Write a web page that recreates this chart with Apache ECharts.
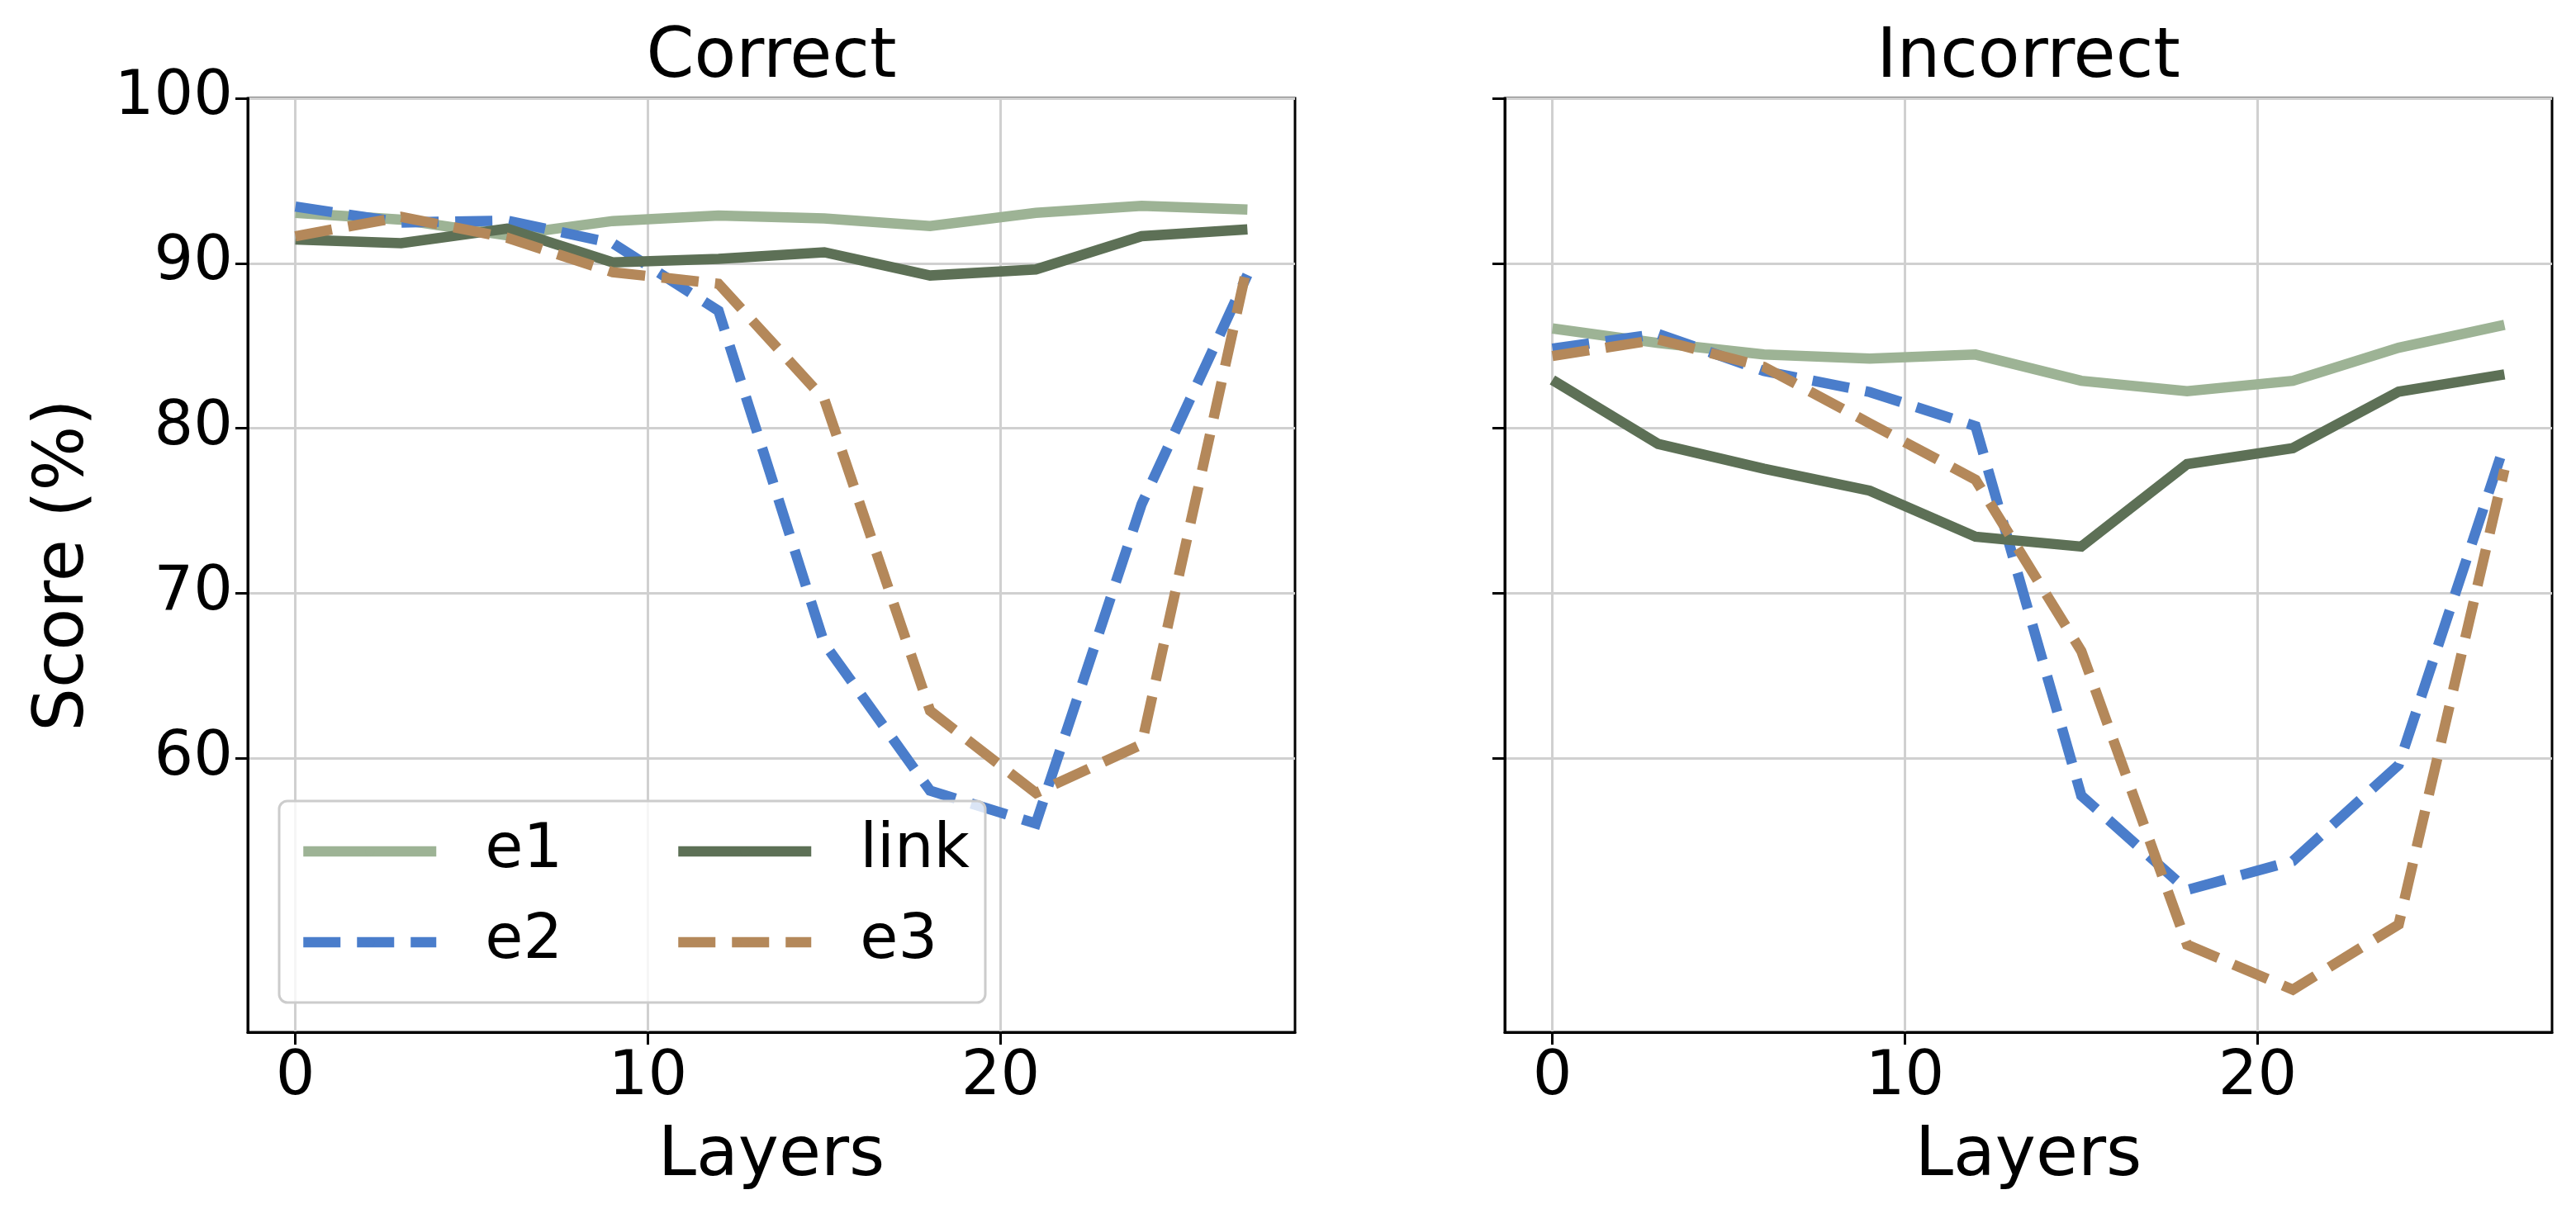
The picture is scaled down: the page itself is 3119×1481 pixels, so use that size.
<!DOCTYPE html>
<html>
<head>
<meta charset="utf-8">
<script src="https://cdn.jsdelivr.net/npm/echarts@6/dist/echarts.min.js"></script>
<style>
html,body{margin:0;padding:0;background:#fff;}
#chart{width:3119px;height:1481px;}
</style>
</head>
<body>
<div id="chart"></div>
<script>
// ---- data ----
const layers = [0, 3, 6, 9, 12, 15, 18, 21, 24, 27];
const panelTitles = ['Correct', 'Incorrect'];
const xTicks = [0, 10, 20];
const yTicks = [60, 70, 80, 90, 100];

const correct_e1   = [93.06, 92.64, 91.70, 92.56, 92.89, 92.72, 92.26, 93.06, 93.48, 93.26];
const correct_e2   = [93.44, 92.47, 92.59, 91.22, 87.12, 66.96, 58.04, 56.05, 75.40, 89.30];
const correct_link = [91.44, 91.22, 92.10, 90.05, 90.27, 90.67, 89.26, 89.63, 91.64, 92.06];
const correct_e3   = [91.64, 92.81, 91.55, 89.46, 88.76, 81.76, 62.88, 57.90, 60.84, 89.90];

const incorrect_e1   = [86.05, 85.17, 84.47, 84.22, 84.47, 82.88, 82.25, 82.88, 84.88, 86.27];
const incorrect_e2   = [84.83, 85.72, 83.47, 82.20, 80.13, 57.74, 52.02, 53.78, 59.60, 79.00];
const incorrect_link = [82.93, 79.05, 77.55, 76.22, 73.43, 72.83, 77.83, 78.80, 82.22, 83.27];
const incorrect_e3   = [84.38, 85.38, 83.72, 80.30, 76.88, 66.50, 48.70, 45.98, 49.93, 77.50];

const seriesNames = ['e1', 'e2', 'link', 'e3'];
// ---- styles ----
const FONT = '"DejaVu Sans", sans-serif';
const colors = {e1: '#9db395', e2: '#4a7dcb', link: '#5d7056', e3: '#b4885a'};
const dashed = {e1: false, e2: true, link: false, e3: true};
const LW = 12.5;

const panelData = [
  {e1: correct_e1, e2: correct_e2, link: correct_link, e3: correct_e3},
  {e1: incorrect_e1, e2: incorrect_e2, link: incorrect_link, e3: incorrect_e3}
];

const gridLefts = [300, 1822];
const GRID_TOP = 119, GRID_W = 1268, GRID_H = 1131;

const grids = gridLefts.map(l => ({
  left: l, top: GRID_TOP, width: GRID_W, height: GRID_H,
  show: true, borderColor: '#000', borderWidth: 3, backgroundColor: 'transparent'
}));

const xAxes = [0, 1].map(i => ({
  type: 'value', gridIndex: i, min: -1.35, max: 28.35,
  name: 'Layers', nameLocation: 'middle', nameGap: 110,
  nameTextStyle: {fontSize: 83, fontFamily: FONT, color: '#000'},
  axisLine: {show: true, onZero: false, lineStyle: {color: '#000', width: 3}},
  axisTick: {show: true, length: 15, lineStyle: {color: '#000', width: 3}, customValues: xTicks},
  axisLabel: {show: true, fontSize: 75, fontFamily: FONT, color: '#000', margin: 18, customValues: xTicks},
  splitLine: {show: true, lineStyle: {color: '#d0d0d0', width: 3}}
}));

const yAxes = [0, 1].map(i => ({
  type: 'value', gridIndex: i, min: 43.4, max: 100,
  name: i === 0 ? 'Score (%)' : '', nameLocation: 'middle', nameGap: 180,
  nameTextStyle: {fontSize: 83, fontFamily: FONT, color: '#000'},
  axisLine: {show: true, onZero: false, lineStyle: {color: '#000', width: 3}},
  axisTick: {show: true, length: 15, lineStyle: {color: '#000', width: 3}, customValues: yTicks},
  axisLabel: {show: i === 0, fontSize: 75, fontFamily: FONT, color: '#000', margin: 18, customValues: yTicks},
  splitLine: {show: true, lineStyle: {color: '#d0d0d0', width: 3}}
}));

const series = [];
[0, 1].forEach(p => {
  seriesNames.forEach(n => {
    series.push({
      type: 'line', name: n, xAxisIndex: p, yAxisIndex: p,
      data: layers.map((x, k) => [x, panelData[p][n][k]]),
      symbol: 'none', showSymbol: false, animation: false,
      lineStyle: {color: colors[n], width: LW, type: dashed[n] ? [45, 20] : 'solid', cap: 'butt', join: 'miter'},
      itemStyle: {color: colors[n]},
      z: 2 + seriesNames.indexOf(n)
    });
  });
});

const legendCommon = {
  orient: 'vertical', itemWidth: 161, itemHeight: 14, itemGap: 20,
  padding: 0, z: 20,
  lineStyle: {width: LW},
  textStyle: {fontSize: 75, fontFamily: FONT, color: '#000', lineHeight: 90, padding: [0, 0, 0, 54]},
  selectedMode: false, inactiveColor: '#000'
};

const option = {
  animation: false,
  backgroundColor: '#fff',
  grid: grids,
  xAxis: xAxes,
  yAxis: yAxes,
  series: series,
  legend: [
    Object.assign({}, legendCommon, {left: 361, top: 986, data: ['e1', 'e2']}),
    Object.assign({}, legendCommon, {left: 815, top: 986, data: ['link', 'e3']})
  ],
  graphic: [
    {type: 'rect', z: 15, shape: {x: 338, y: 970, width: 855, height: 244, r: 10},
     style: {fill: 'rgba(255,255,255,0.8)', stroke: '#cccccc', lineWidth: 3}},
    {type: 'text', z: 20, x: gridLefts[0] + GRID_W / 2, y: 30,
     style: {text: panelTitles[0], font: '83px ' + FONT, fill: '#000', textAlign: 'center', textVerticalAlign: 'top'}},
    {type: 'text', z: 20, x: gridLefts[1] + GRID_W / 2, y: 30,
     style: {text: panelTitles[1], font: '83px ' + FONT, fill: '#000', textAlign: 'center', textVerticalAlign: 'top'}}
  ]
};

const chart = echarts.init(document.getElementById('chart'), null, {renderer: 'canvas'});
chart.setOption(option);
</script>
</body>
</html>
